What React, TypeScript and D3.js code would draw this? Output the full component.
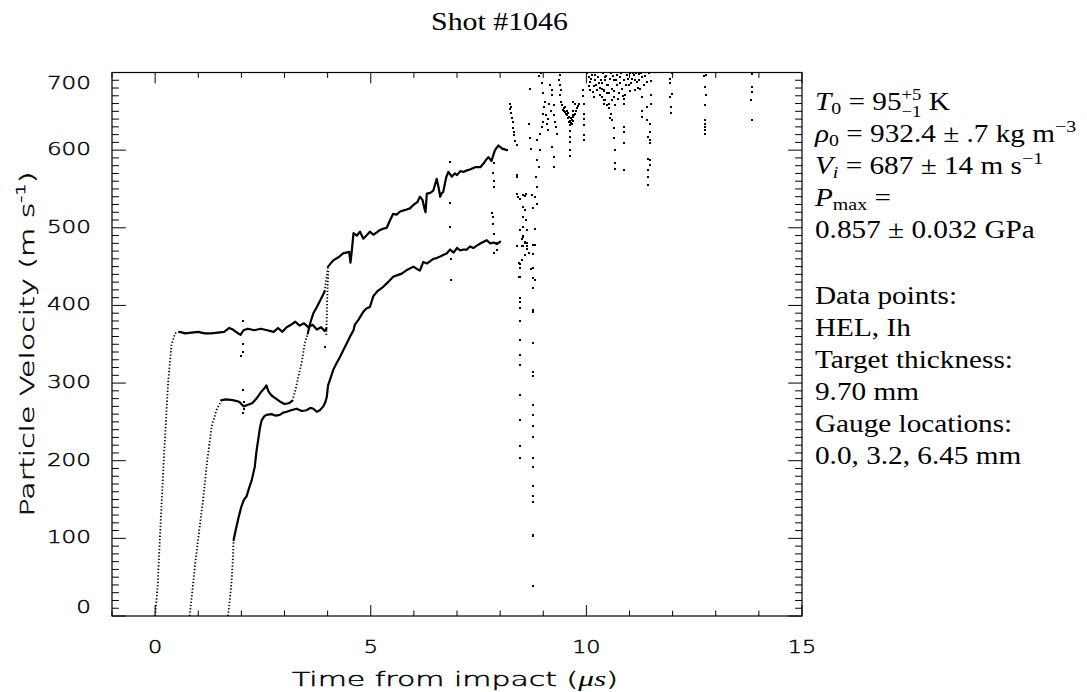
import React from "react";
import * as d3 from "d3";

type P = [number, number];

// ---- axis definitions ----
const xDomain: [number, number] = [-1, 15];
const yDomain: [number, number] = [0, 700];
const xMajorTicks = [0, 5, 10, 15];
const xTickLabels = ["0", "5", "10", "15"];
const yMajorTicks = [0, 100, 200, 300, 400, 500, 600, 700];
const yTickLabels = ["0", "100", "200", "300", "400", "500", "600", "700"];

// ---- gauge 0.0 mm ----
const gauge1Rise: P[] = [[0.0, 0], [0.06, 40], [0.11, 100], [0.2, 200], [0.3, 300], [0.38, 349], [0.46, 364], [0.57, 366]];
const gauge1: P[] = [[0.57, 366], [0.7, 364], [0.85, 365], [1.0, 366], [1.15, 364], [1.3, 364], [1.45, 365], [1.6, 366], [1.72, 371], [1.8, 369], [1.9, 365], [1.98, 362], [2.05, 368], [2.15, 370], [2.3, 368], [2.45, 370], [2.6, 368], [2.75, 366], [2.85, 371], [2.95, 366], [3.05, 372], [3.15, 375], [3.25, 379], [3.35, 374], [3.45, 377], [3.55, 372], [3.65, 375], [3.75, 369], [3.85, 372], [3.93, 367], [3.97, 370]];
const gauge1Jump: P[] = [[3.97, 362], [3.98, 385], [3.99, 405], [4.0, 425], [4.02, 447]];

// ---- gauge 3.2 mm ----
const gauge2Rise: P[] = [[0.8, 0], [0.86, 30], [0.92, 63], [1.0, 100], [1.11, 149], [1.21, 201], [1.31, 244], [1.42, 265], [1.54, 278]];
const gauge2: P[] = [[1.54, 278], [1.65, 279], [1.8, 278], [1.95, 276], [2.05, 270], [2.15, 272], [2.25, 274], [2.35, 280], [2.45, 288], [2.53, 293], [2.58, 297], [2.63, 289], [2.7, 284], [2.8, 280], [2.9, 276], [3.0, 273], [3.1, 274], [3.18, 277]];
const gauge2Rise2: P[] = [[3.18, 277], [3.25, 290], [3.32, 308], [3.4, 327], [3.47, 351], [3.54, 364]];
const gauge2Mid: P[] = [[3.54, 364], [3.6, 378], [3.67, 390], [3.75, 398], [3.86, 410], [3.93, 418]];
const gauge2Jump: P[] = [[3.93, 418], [3.97, 435], [4.01, 450]];
const gauge2Upper: P[] = [[4.01, 450], [4.13, 458], [4.25, 462], [4.36, 467], [4.5, 469], [4.53, 455], [4.56, 470], [4.6, 493], [4.68, 490], [4.75, 495], [4.83, 486], [4.9, 490], [4.98, 495], [5.06, 491], [5.14, 494], [5.21, 497], [5.3, 499], [5.37, 500], [5.45, 510], [5.52, 518], [5.6, 517], [5.68, 521], [5.8, 523], [5.91, 525], [6.0, 530], [6.08, 533], [6.14, 540], [6.2, 536], [6.24, 526], [6.27, 520], [6.3, 544], [6.38, 545], [6.45, 548], [6.53, 563], [6.58, 550], [6.61, 540], [6.65, 545], [6.68, 546], [6.75, 565], [6.8, 572], [6.88, 566], [6.95, 570], [7.0, 568], [7.08, 573], [7.15, 572], [7.23, 574], [7.3, 575], [7.42, 578], [7.54, 578], [7.62, 583], [7.68, 588], [7.73, 591], [7.8, 586], [7.88, 600], [7.96, 606], [8.05, 602], [8.16, 600]];

// ---- gauge 6.45 mm ----
const gauge3Rise: P[] = [[1.69, 0], [1.74, 25], [1.77, 42], [1.8, 70], [1.82, 98]];
const gauge3: P[] = [[1.82, 98], [1.87, 111], [1.94, 128], [2.0, 141], [2.06, 150], [2.12, 154], [2.18, 165], [2.24, 175], [2.31, 192], [2.35, 212], [2.39, 227], [2.43, 242], [2.47, 252], [2.53, 257], [2.58, 259], [2.7, 260], [2.8, 258], [2.89, 259], [2.97, 262], [3.05, 263], [3.15, 265], [3.28, 267], [3.4, 264], [3.51, 265], [3.6, 268], [3.67, 267], [3.75, 263], [3.82, 265], [3.9, 270], [3.95, 276], [3.98, 282], [4.01, 297], [4.06, 305], [4.13, 317], [4.2, 325], [4.28, 333], [4.36, 342], [4.45, 352], [4.52, 360], [4.56, 364], [4.6, 368], [4.63, 375], [4.72, 382], [4.83, 392], [4.9, 396], [4.98, 398], [5.06, 412], [5.15, 418], [5.29, 424], [5.4, 430], [5.52, 437], [5.62, 439], [5.72, 441], [5.85, 446], [5.99, 450], [6.07, 447], [6.14, 445], [6.22, 456], [6.3, 454], [6.38, 457], [6.45, 460], [6.53, 461], [6.61, 463], [6.68, 465], [6.76, 467], [6.84, 472], [6.92, 468], [7.0, 474], [7.07, 471], [7.15, 472], [7.23, 472], [7.3, 476], [7.38, 474], [7.46, 477], [7.55, 480], [7.62, 482], [7.69, 484], [7.77, 480], [7.85, 481], [7.92, 479], [8.0, 482]];

// ---- scattered samples ----
const scatterPoints: P[] = [
  [2.03, 380], [2.03, 350], [2.03, 340], [2.04, 291], [2.04, 262], [2.06, 266], [1.99, 335], [2.05, 275],
  [3.95, 347], [6.84, 585], [6.84, 532], [6.84, 501], [6.86, 460], [6.87, 433], [7.84, 514], [7.85, 467],
  [7.83, 593], [7.85, 583], [7.84, 570], [7.86, 560], [7.85, 553], [7.8, 519], [7.83, 505], [7.85, 492], [7.9, 480], [7.92, 472],
  [8.23, 660], [8.24, 653], [8.26, 648], [8.3, 636], [8.31, 628], [8.33, 620], [8.35, 612], [8.39, 606], [8.25, 656], [8.28, 642], [8.32, 624],
  [8.38, 568], [8.38, 544], [8.42, 540], [8.47, 537],
  [8.4, 566], [8.53, 542], [8.58, 541], [8.6, 544], [8.54, 527], [8.58, 523], [8.53, 514], [8.6, 510], [8.54, 501], [8.62, 497], [8.54, 488], [8.58, 480], [8.5, 476], [8.62, 476],
  [8.7, 679], [8.68, 634], [8.7, 615], [8.71, 602], [8.85, 587], [8.89, 578], [8.83, 566], [8.85, 553], [8.81, 540], [8.74, 542], [8.85, 531], [8.77, 525], [8.85, 613], [8.93, 621], [8.96, 630], [9.0, 636], [8.81, 499], [8.93, 600],
  [8.97, 686], [9.0, 673], [9.04, 662], [9.0, 647], [9.08, 634], [9.12, 626], [9.16, 684], [9.2, 677], [9.2, 671], [9.24, 658], [9.28, 636], [9.32, 621], [9.2, 604], [9.24, 591], [9.24, 578], [8.9, 695], [8.95, 699],
  [9.02, 655], [9.06, 645], [9.1, 640], [9.14, 660], [9.18, 650], [9.26, 645], [9.3, 630],
  [9.38, 697], [9.38, 684], [9.39, 671], [9.41, 662], [9.36, 690], [9.4, 678],
  [9.43, 658], [9.47, 654], [9.51, 649], [9.55, 645], [9.59, 643], [9.62, 638], [9.66, 639], [9.7, 643], [9.74, 647], [9.78, 654], [9.82, 660], [9.74, 660], [9.7, 662], [9.62, 632], [9.62, 617], [9.62, 600], [9.62, 593], [9.5, 655], [9.55, 650], [9.66, 634], [9.68, 645],
  [9.45, 652], [9.49, 650], [9.53, 646], [9.57, 641], [9.6, 636], [9.64, 635], [9.68, 638], [9.72, 645], [9.76, 650], [9.8, 657], [9.58, 648], [9.64, 641], [9.7, 650], [9.61, 625], [9.63, 610],
  [9.92, 677], [9.94, 660], [9.95, 647], [9.94, 632], [9.95, 619], [9.95, 613], [9.93, 670], [9.94, 640],
  [10.05, 694], [10.09, 688], [10.13, 697], [10.17, 682], [10.21, 690], [10.25, 677], [10.29, 686], [10.32, 671], [10.36, 679], [10.4, 664], [10.44, 690], [10.48, 673], [10.52, 660], [10.54, 641], [10.09, 677], [10.17, 668],
  [10.02, 699], [10.06, 682], [10.11, 692], [10.15, 675], [10.19, 697], [10.23, 684], [10.27, 694], [10.31, 680], [10.34, 690], [10.38, 699], [10.42, 676], [10.46, 696], [10.5, 684], [10.55, 692],
  [10.36, 686], [10.36, 669], [10.4, 677], [10.4, 660], [10.44, 694], [10.44, 664], [10.48, 684], [10.48, 658], [10.52, 673], [10.52, 654], [10.56, 699], [10.59, 679], [10.59, 664], [10.63, 690], [10.63, 669], [10.67, 658], [10.71, 697], [10.71, 684], [10.75, 673], [10.79, 694], [10.83, 679], [10.87, 690], [10.9, 671], [10.94, 697], [10.98, 684], [11.02, 699], [11.06, 692], [11.1, 697], [11.13, 677], [11.17, 688], [11.21, 698], [11.25, 679], [11.29, 694], [11.33, 684], [11.41, 688], [11.5, 689],
  [10.61, 696], [10.65, 676], [10.69, 690], [10.73, 666], [10.77, 686], [10.81, 699], [10.85, 670], [10.92, 684], [10.96, 692], [11.0, 676], [11.04, 686], [11.08, 699], [11.12, 690], [11.15, 699], [11.19, 680], [11.23, 690], [11.27, 699], [11.36, 696], [11.45, 699],
  [10.56, 647], [10.59, 639], [10.63, 628], [10.65, 615], [10.67, 600], [10.67, 583], [10.67, 576],
  [10.87, 666], [10.88, 660], [10.87, 630], [10.88, 624], [10.87, 609], [10.87, 574],
  [11.29, 669], [11.41, 656], [11.29, 651], [11.29, 643], [11.41, 639], [11.48, 634], [11.48, 623], [11.44, 617], [11.48, 613], [11.47, 609], [11.44, 589], [11.47, 587], [11.48, 581], [11.44, 574], [11.44, 566], [11.44, 555], [11.5, 671], [11.5, 660],
  [11.99, 699], [11.95, 692], [11.95, 686], [11.99, 672], [11.95, 669], [11.96, 656], [11.97, 648],
  [12.72, 695], [12.78, 697], [12.74, 681], [12.78, 671], [12.76, 658], [12.74, 639], [12.74, 634], [12.75, 630], [12.76, 626], [12.76, 621],
  [13.83, 698], [13.83, 681], [13.84, 675], [13.82, 664], [13.84, 639],
  [8.45, 497], [8.45, 454], [8.45, 448], [8.45, 437], [8.45, 409], [8.45, 405], [8.45, 397], [8.45, 380], [8.45, 355], [8.45, 336], [8.45, 323], [8.45, 284], [8.45, 253], [8.45, 219], [8.45, 203],
  [8.76, 478], [8.76, 466], [8.76, 448], [8.76, 435], [8.76, 423], [8.76, 394], [8.77, 392], [8.76, 351], [8.76, 314], [8.77, 309], [8.76, 272], [8.76, 259], [8.76, 245], [8.76, 231], [8.76, 203], [8.76, 192], [8.76, 168], [8.76, 154], [8.76, 147], [8.76, 104], [8.77, 103], [8.76, 39],
  [8.5, 486], [8.54, 490], [8.58, 482], [8.62, 481], [8.39, 476], [8.53, 476], [8.62, 473], [8.66, 467], [8.77, 466], [8.81, 478], [8.57, 465], [8.5, 459], [8.43, 455], [8.47, 448], [8.43, 437], [8.72, 447], [8.81, 433],
];

const LEFT = 112, RIGHT = 802, TOP = 72.5, BOTTOM = 616;
const SERIF = "'Liberation Serif', 'Times New Roman', serif";
const SANS = "'DejaVu Sans', sans-serif";

export default function App() {
  const x = d3.scaleLinear().domain(xDomain).range([LEFT, RIGHT]);
  const y = d3.scaleLinear().domain(yDomain).range([BOTTOM, TOP]);
  const line = d3.line<P>().x(d => x(d[0])).y(d => y(d[1]));
  const xMinor = d3.range(xDomain[0], xDomain[1] + 0.001, 1);
  const yMinor = d3.range(yDomain[0], yDomain[1] + 0.001, 10);
  const xMajLen = 10.9, xMinLen = 5.4, yMajLen = 13.8, yMinLen = 6.9;

  const solid = [gauge1, gauge2, gauge2Mid, gauge2Upper, gauge3];
  const dotted = [gauge1Rise, gauge1Jump, gauge2Rise, gauge2Rise2, gauge2Jump, gauge3Rise];

  const annX = 815;
  const annScale = 1.17;
  const fs = 25;

  const yLabelBaseline = (v: number) => {
    if (v === 700) return 89;
    if (v === 0) return 613;
    return y(v) + 5;
  };

  const hershey = { fontFamily: SANS, fontWeight: 200, fill: "#000", stroke: "#000", strokeWidth: 0.45 };

  return (
    <svg width={1087} height={692} style={{ position: "absolute", left: 0, top: 0, display: "block", background: "#fff" }}>
      <rect x={0} y={0} width={1087} height={692} fill="#fff" />
      {/* title */}
      <g transform={`translate(499.5,30) scale(${annScale},1)`}>
        <text x={0} y={0} textAnchor="middle" fontFamily={SERIF} fontSize={25.5} fill="#000">Shot #1046</text>
      </g>

      {/* data */}
      <g fill="none" stroke="#000" strokeLinejoin="round" strokeLinecap="round">
        {solid.map((s, i) => <path key={"s" + i} d={line(s) || ""} strokeWidth={2.2} />)}
        {dotted.map((s, i) => <path key={"d" + i} d={line(s) || ""} strokeWidth={1.8} strokeDasharray="1.3 2" strokeLinecap="butt" />)}
      </g>
      <g fill="#000">
        {scatterPoints.map((p, i) => <rect key={i} x={Math.round(x(p[0])) - 1} y={Math.round(y(p[1])) - 1} width={2} height={2} />)}
      </g>

      {/* frame */}
      <rect x={LEFT} y={TOP} width={RIGHT - LEFT} height={BOTTOM - TOP} fill="none" stroke="#000" strokeWidth={1.2} />
      <g stroke="#000" strokeWidth={1}>
        {xMinor.map((t, i) => {
          const maj = xMajorTicks.includes(t);
          const len = maj ? xMajLen : xMinLen;
          return (
            <g key={"xt" + i}>
              <line x1={x(t)} x2={x(t)} y1={BOTTOM} y2={BOTTOM - len} />
              <line x1={x(t)} x2={x(t)} y1={TOP} y2={TOP + len} />
            </g>
          );
        })}
        {yMinor.map((v, i) => {
          const maj = yMajorTicks.includes(v);
          const len = maj ? yMajLen : yMinLen;
          return (
            <g key={"yt" + i}>
              <line x1={LEFT} x2={LEFT + len} y1={y(v)} y2={y(v)} />
              <line x1={RIGHT} x2={RIGHT - len} y1={y(v)} y2={y(v)} />
            </g>
          );
        })}
      </g>

      {/* tick labels */}
      <g {...hershey} fontSize={18}>
        {xMajorTicks.map((t, i) => (
          <text key={"xl" + i} x={x(t)} y={652.5} textAnchor="middle" textLength={xTickLabels[i].length * 14.2} lengthAdjust="spacingAndGlyphs">{xTickLabels[i]}</text>
        ))}
        {yMajorTicks.map((v, i) => (
          <text key={"yl" + i} x={91} y={yLabelBaseline(v)} textAnchor="end" textLength={yTickLabels[i].length * 14.7} lengthAdjust="spacingAndGlyphs">{yTickLabels[i]}</text>
        ))}
      </g>

      {/* axis titles */}
      <text x={455} y={686} textAnchor="middle" {...hershey} fontSize={20} textLength={326} lengthAdjust="spacingAndGlyphs">
        Time from impact (<tspan fontFamily={SERIF} fontStyle="italic" fontWeight={400} strokeWidth={0} fontSize={21}>μs</tspan>)
      </text>
      <g transform="translate(34,344) rotate(-90)">
        <text x={0} y={0} textAnchor="middle" {...hershey} fontSize={20} textLength={345} lengthAdjust="spacingAndGlyphs">
          Particle Velocity (m s<tspan fontSize={13} dy={-9}>-1</tspan><tspan dy={9}>)</tspan>
        </text>
      </g>

      {/* annotations */}
      <g fontFamily={SERIF} fontSize={fs} fill="#000">
        <g transform={`translate(${annX},110) scale(${annScale},1)`}>
          <text x={0} y={0}>
            <tspan fontStyle="italic">T</tspan><tspan fontSize={17} dy={4}>0</tspan><tspan dy={-4}>{" = 95"}</tspan><tspan fontSize={16} dy={-10}>+5</tspan><tspan fontSize={16} dx={-17} dy={17}>−1</tspan><tspan dy={-7}>{" K"}</tspan>
          </text>
        </g>
        <g transform={`translate(${annX},142) scale(${annScale},1)`}>
          <text x={0} y={0}>
            <tspan fontStyle="italic">ρ</tspan><tspan fontSize={17} dy={4}>0</tspan><tspan dy={-4}>{" = 932.4 ± .7 kg m"}</tspan><tspan fontSize={17} dy={-10}>−3</tspan>
          </text>
        </g>
        <g transform={`translate(${annX},174) scale(${annScale},1)`}>
          <text x={0} y={0}>
            <tspan fontStyle="italic">V</tspan><tspan fontSize={17} fontStyle="italic" dy={4}>i</tspan><tspan dy={-4}>{" = 687 ± 14 m s"}</tspan><tspan fontSize={17} dy={-10}>−1</tspan>
          </text>
        </g>
        <g transform={`translate(${annX},206) scale(${annScale},1)`}>
          <text x={0} y={0}>
            <tspan fontStyle="italic">P</tspan><tspan fontSize={17} dy={4}>max</tspan><tspan dy={-4}>{" ="}</tspan>
          </text>
        </g>
        <g transform={`translate(${annX},238) scale(${annScale},1)`}>
          <text x={0} y={0}>0.857 ± 0.032 GPa</text>
        </g>
        {[
          ["Data points:", 304],
          ["HEL, Ih", 336],
          ["Target thickness:", 368],
          ["9.70 mm", 400],
          ["Gauge locations:", 432],
          ["0.0, 3.2, 6.45 mm", 464],
        ].map(([s, yy], i) => (
          <g key={"ann" + i} transform={`translate(${annX},${yy}) scale(${annScale},1)`}>
            <text x={0} y={0}>{s}</text>
          </g>
        ))}
      </g>
    </svg>
  );
}
